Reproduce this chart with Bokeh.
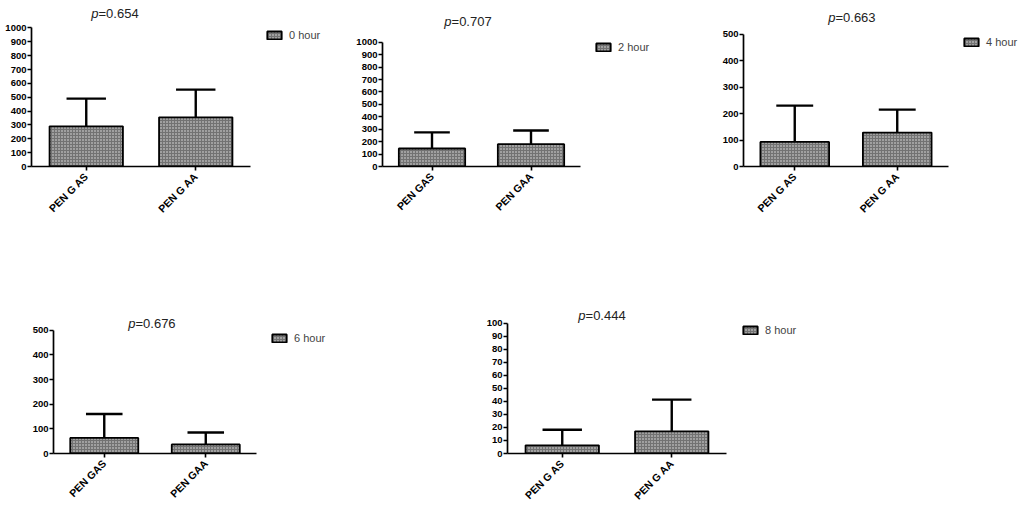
from bokeh.plotting import figure
from bokeh.layouts import row, column
from bokeh.models import Range1d, FixedTicker, Label, Legend, LegendItem, ColumnDataSource
from bokeh.embed import file_html
from bokeh.resources import INLINE
import math

# ---- data ----
titles_p = ["0.654", "0.707", "0.663", "0.676", "0.444"]
legend_labels = ["0 hour", "2 hour", "4 hour", "6 hour", "8 hour"]
tick_labels_0 = ["PEN G AS", "PEN G AA"]
tick_labels_2 = ["PEN GAS", "PEN GAA"]
tick_labels_4 = ["PEN G AS", "PEN G AA"]
tick_labels_6 = ["PEN GAS", "PEN GAA"]
tick_labels_8 = ["PEN G AS", "PEN G AA"]
mean_0 = [290, 355]
err_0 = [200, 200]
mean_2 = [145, 180]
err_2 = [130, 110]
mean_4 = [93, 128]
err_4 = [137, 87]
mean_6 = [63, 37]
err_6 = [97, 48]
mean_8 = [6.3, 17]
err_8 = [11.9, 24.3]
y_max = [1000, 1000, 500, 500, 100]
y_step = [100, 100, 100, 100, 10]

# ---- layout (pixels / range extents) ----
# fig width, height, border left, border bottom, x_end, y_top,
# title x, title y (data), legend screen x, legend screen y
geo = [
    (340, 290, 31, 121, 3.322, 1198, 1.267, 1106, 234, 125),
    (340, 290, 42, 119, 3.51, 1336, 1.369, 1164, 212, 113),
    (339, 290, 63, 124, 3.193, 627, 1.563, 562, 219, 118),
    (470, 219, 53, 56, 4.608, 661, 1.475, 528, 217, 109),
    (549, 219, 37, 52, 5.176, 125, 1.368, 105.9, 234, 117),
]

panels = [
    (tick_labels_0, mean_0, err_0),
    (tick_labels_2, mean_2, err_2),
    (tick_labels_4, mean_4, err_4),
    (tick_labels_6, mean_6, err_6),
    (tick_labels_8, mean_8, err_8),
]

FONT = "Liberation Sans"
figs = []
for i, (labels, means, errs) in enumerate(panels):
    w, h, bl, bb, x_end, y_top, tx, ty, lx, ly = geo[i]
    p = figure(width=w, height=h, output_backend="svg", toolbar_location=None, title=None,
               x_range=Range1d(0.5, x_end), y_range=Range1d(0, y_top),
               min_border_left=bl, min_border_right=0,
               min_border_top=0, min_border_bottom=bb)
    p.outline_line_color = None
    p.xgrid.visible = False
    p.ygrid.visible = False
    p.background_fill_color = "white"
    xs = [1, 2]
    src = ColumnDataSource(dict(x=xs, top=means, up=[m + e for m, e in zip(means, errs)],
                                cl=[x - 0.18 for x in xs], cr=[x + 0.18 for x in xs]))
    # error bars (behind bars)
    p.segment(x0="x", y0="top", x1="x", y1="up", source=src, line_color="black", line_width=2.4)
    p.segment(x0="cl", y0="up", x1="cr", y1="up", source=src, line_color="black", line_width=2.4)
    r = p.vbar(x="x", top="top", width=0.67, bottom=0, source=src,
               fill_color="#727272", line_color="black", line_width=1.8,
               hatch_pattern="dot", hatch_color="#e6e6e6", hatch_scale=3, hatch_weight=1)

    for ax in (p.xaxis[0], p.yaxis[0]):
        ax.axis_line_width = 1.7
        ax.axis_line_color = "black"
        ax.major_tick_line_width = 1.6
        ax.major_tick_out = 4
        ax.major_tick_in = 0
        ax.minor_tick_line_color = None
        ax.major_label_text_font = FONT
        ax.major_label_text_font_style = "bold"
        ax.major_label_text_color = "black"
    p.yaxis.major_label_text_font_size = "9.5px"
    p.yaxis.major_label_standoff = 1
    p.xaxis.major_label_text_font_size = "10.5px"
    p.xaxis.major_label_standoff = 4
    p.yaxis.bounds = (0, y_max[i])
    p.xaxis.bounds = (0.5, 2.5)
    p.yaxis.ticker = FixedTicker(ticks=list(range(0, y_max[i] + 1, y_step[i])))
    p.xaxis.ticker = FixedTicker(ticks=xs)
    p.xaxis.major_label_overrides = {x: lab for x, lab in zip(xs, labels)}
    p.xaxis.major_label_orientation = math.pi / 4

    # title: italic p + "=value"
    p.add_layout(Label(x=tx, y=ty, x_offset=-17, text="p",
                       text_font=FONT, text_font_style="italic", text_font_size="13px",
                       text_align="right", text_baseline="middle", text_color="#222222"))
    p.add_layout(Label(x=tx, y=ty, x_offset=-17, text="=" + titles_p[i],
                       text_font=FONT, text_font_size="13px",
                       text_align="left", text_baseline="middle", text_color="#222222"))

    leg = Legend(items=[LegendItem(label=legend_labels[i], renderers=[r])],
                 location=(lx, ly), padding=0, margin=0, spacing=0,
                 glyph_width=18, glyph_height=10, label_height=10, label_standoff=6,
                 label_text_font=FONT, label_text_font_size="11px",
                 border_line_color=None, background_fill_alpha=0)
    p.add_layout(leg, "center")
    figs.append(p)

layout = column(row(figs[0], figs[1], figs[2]), row(figs[3], figs[4]))
open("out.html", "w").write(file_html(layout, INLINE))
